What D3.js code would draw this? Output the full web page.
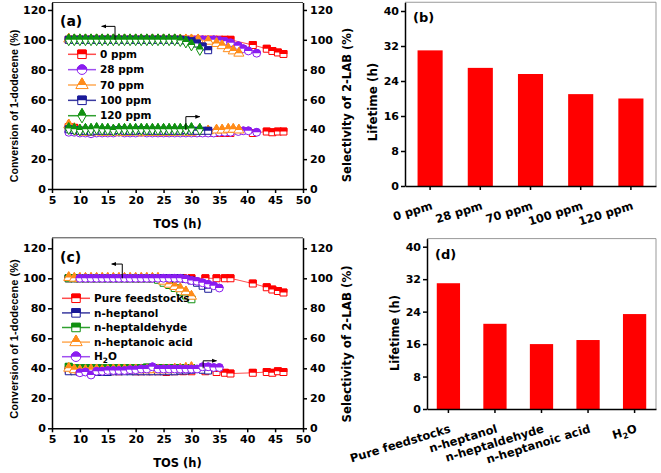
<!DOCTYPE html>
<html><head><meta charset="utf-8">
<script src="https://cdn.jsdelivr.net/npm/d3@7"></script>
<style>body{margin:0;background:#fff} svg{display:block}</style>
</head><body><svg id="c" width="661" height="473"></svg>
<script>
// ---------------- DATA ----------------
const tickX = [5,10,15,20,25,30,35,40,45,50];
const tickY = [0,20,40,60,80,100,120];
const tickLife = [0,8,16,24,32,40];

// Panel (a): impurity concentration
const tA0 = [8,9,10,11,12,13,14,15,16,17,18,19,20,21,22,23,24,25,26,27,28,29,30,31,32,33,34,35,36,37,41,43.5,44.5,45.5,46.5];
const cA0 = [100,100,100,100,100,100,100,100,100,100,100,100,100,100,100,100,100,100,100,100,100,100,100,100,100,100,100,100,100,100,96.5,94,92.5,91.5,90.5];
const sA0 = [41.5,41,39,38.5,38,38.5,38,38.5,38,38.5,38,38.5,38,38,38.5,38,38,37.5,38,38,38,38,38,37.5,38,38,37.5,37.5,37.5,37.5,37.5,38.5,38,38.5,38.5];
const tA28 = [8,9,10,11,12,13,14,15,16,17,18,19,20,21,22,23,24,25,26,27,28,29,30,31,32,33,34,35,36,37,38.4,39.3,40.2,41.7];
const cA28 = [100,100,100,100,100,100,100,100,100,100,100,100,100,100,100,100,100,100,100,100,100,100,100,100,100,100,100,99.5,99,98,96,94,92.5,91];
const sA28 = [38,38,37.5,37.5,37,37.5,37.5,37.5,37.5,38,37.5,37.5,37.5,38,37.5,37.5,37.5,37.5,37.5,37.5,37.5,37.5,37.5,37.5,37.5,37.5,37.5,38,38,38,38.5,39,39,38];
const tA70 = [8,9,10,11,12,13,14,15,16,17,18,19,20,21,22,23,24,25,26,27,28,29,30,31.2,33,34.5,35.5,36.6,37.5,38.5];
const cA70 = [100.5,100,100,100,100,100,100,100,100,100,100,100,100,100,100,100,100,100,100,100,100,100,100,100,99,97.5,96,94,92.5,91];
const sA70 = [43,40.5,38.5,38,38,38.5,38,38,38.5,38,38,38,38.5,38,38,38,38,38,38,38,38.5,38,38,38.5,39,39.5,39.5,40,40,39.5];
const tA100 = [8,9,10,11,12,13,14,15,16,17,18,19,20,21,22,23,24,25,26,27,28,29,30,31,32,33];
const cA100 = [100,100,100,100,100,100,100,100,100,100,100,100,100,100,100,100,100,100,100,100,100,99.5,99,97.5,95.5,93];
const sA100 = [40,39.5,39,39,38.5,39,39,39,39,39.5,39,39,39,39.5,39,39,39,39,39,39,39,39.5,39,39,39,39];
const tA120 = [8,9,10,11,12,13,14,15,16,17,18,19,20,21,22,23,24,25,26,27,28,29,30,31.5];
const cA120 = [100,100,100,100,100,100,100,100,100,100,100,100,100,100,100,100,100,100,100,100,99.5,98.5,96.5,93.5];
const sA120 = [40.5,40,39.5,40,40,40.5,40,40,39.5,40,40,40,40,40,40,40,40,40,40,40,40,40,40.5,40];

// Panel (c): impurity type
const tC0 = [8,9.5,11,12.5,14,15.5,17,18.5,20,21,22.5,24,25.5,27,28.5,30,32.5,34.5,36,37,41,43.5,44.5,45.5,46.5];
const cC0 = [100,100,100,100,100,100,100,100,100,100,100,100,100,100,100,100,100,100,100,100,96.5,94,92.5,91.5,90.5];
const sC0 = [39,38.5,38.5,38.5,38,38,38,38.5,38,38,38,38,37.5,38,38,38,38,37.5,37,36.5,37,37.5,37,38,37.5];
const tC1 = [8,9,10,11,12,13,14,15,16,17,18,19,20,21,22,23,24,25,26,27,28,29,30,31,32,33];
const cC1 = [100,100,100,100,100,100,100,100,100,100,100,100,100,100,100,100,100,100,100,100,100,99.5,98.5,97,95,93];
const sC1 = [38,38,37.5,37.5,37.5,37.5,37.5,37.5,38,38,38,38,38,38,38,38,38,38,38,38,38.5,38.5,39,39.5,39,38.5];
const tC2 = [8,9,10,11,12,13,14,15,16,17,18,19,20,21,22,23,24,25,26,27,28,29,30];
const cC2 = [100,100,100,100,100,100,100,100,100,100,100,100,100,100,100,100,99,97,95.5,93.5,91,88.5,86];
const sC2 = [41,40,40,40,40,40,40,40,40,40,40,40,40,40,40.5,40,40,40,40,40,40,40,40];
const tC3 = [8,9,10,11,12,13,14,15,16,17,18,19,20,21,22,23,24,25,26,27,28,29,30];
const cC3 = [100.5,100,100,100,100,100,100,100,100,100,100,100,100,100,100,100,100,98,96,94.5,93,91,88];
const sC3 = [40,39,38.5,38.5,39,39,38.5,38.5,39,39,39,39,39,39,39,39,39,39,39,39.5,39.5,40,40.5];
const tC4 = [10,11,12,13,14,15,16,17,18,19,20,21,22,23,24,25,26,27,28,29,30,31,32,33,34,35];
const cC4 = [100,100,100,100,100,100,100,100,100,100,100,100,100,100,100,100,100,100,100,99.5,98.5,98,97,96,95,93.5];
const sC4 = [37,37.5,35.5,38,38,38.5,38.5,38.5,38.5,39,39,39.5,39.5,41,39.5,39.5,39.5,39.5,39.5,39.5,39.5,39.5,41,41,40.5,40.5];

// Bars
const bCats = ["0 ppm","28 ppm","70 ppm","100 ppm","120 ppm"];
const bVals = [31, 27, 25.6, 21, 20];
const dCats = ["Pure feedstocks","n-heptanol","n-heptaldehyde","n-heptanoic acid","H2O"];
const dVals = [31, 21, 16, 17, 23.4];

// ---------------- DRAW ----------------
const FONT = "'DejaVu Sans', 'Liberation Sans', Arial, sans-serif";
const FONT2 = "'Liberation Sans', Arial, sans-serif";
const svg = d3.select("#c");
svg.append("rect").attr("width",661).attr("height",473).attr("fill","#fff");
const defs = svg.append("defs");
defs.append("clipPath").attr("id","topHalf").attr("clipPathUnits","userSpaceOnUse")
  .append("rect").attr("x",-20).attr("y",-20).attr("width",40).attr("height",20);
defs.append("marker").attr("id","arrow").attr("viewBox","0 0 10 10").attr("refX",9).attr("refY",5)
  .attr("markerWidth",5).attr("markerHeight",5).attr("markerUnits","userSpaceOnUse").attr("orient","auto")
  .append("path").attr("d","M0,1L10,5L0,9z").attr("fill","#000");

const shapes = {square:d3.symbolSquare, circle:d3.symbolCircle, triangle:d3.symbolTriangle, diamond:d3.symbolDiamond};

function halfMarker(g, x, y, shape, color, size){
  const d = d3.symbol(shapes[shape], size)();
  const tr = `translate(${x},${y})`;
  g.append("path").attr("d",d).attr("transform",tr).attr("fill","#fff").attr("stroke",color).attr("stroke-width",1);
  g.append("path").attr("d",d).attr("transform",tr).attr("fill",color).attr("stroke",color).attr("stroke-width",1).attr("clip-path","url(#topHalf)");
}

function styleAxis(a, fs){
  a.select(".domain").attr("stroke","#000").attr("stroke-width",1.5);
  a.selectAll(".tick line").attr("stroke","#000").attr("stroke-width",1.5);
  a.selectAll("text").attr("font-family",FONT).attr("font-weight","bold").attr("font-size",fs).attr("fill","#000");
}

function rotTitle(g, text, x, y, fs, fam){
  g.append("text").attr("transform",`translate(${x},${y}) rotate(-90)`).attr("text-anchor","middle")
    .attr("font-family",fam || FONT).attr("font-weight","bold").attr("font-size",fs).text(text);
}

function addLabel(g, txt){
  if (txt === "H2O") {
    g.append("tspan").text("H");
    g.append("tspan").text("2").attr("font-size","70%").attr("dy",3);
    g.append("tspan").text("O").attr("dy",-3);
  } else g.text(txt);
}

function linePanel(o){
  const g = svg.append("g");
  const x = d3.scaleLinear().domain([5,50]).range([o.left,o.right]);
  const y = d3.scaleLinear().domain([0,o.yMax]).range([o.bottom,o.top]);
  g.append("line").attr("x1",o.left).attr("x2",o.right).attr("y1",o.top).attr("y2",o.top).attr("stroke","#444").attr("stroke-width",1);

  o.series.forEach(s=>{
    [s.conv, s.sel].forEach(vals=>{
      const pts = s.tos.map((t,i)=>[t, vals[i]]);
      g.append("path").datum(pts).attr("d", d3.line().x(d=>x(d[0])).y(d=>y(d[1])))
        .attr("fill","none").attr("stroke",s.line).attr("stroke-width",1);
      pts.forEach(p=>halfMarker(g, x(p[0]), y(p[1]), s.shape, s.color, s.size));
    });
  });

  o.arrows.forEach(a=>{
    g.append("path").attr("d", `M${x(a[0])},${y(a[1])}V${y(a[2])}H${x(a[3])}`)
      .attr("fill","none").attr("stroke","#000").attr("stroke-width",1).attr("marker-end","url(#arrow)");
  });

  const ax = g.append("g").attr("transform",`translate(0,${o.bottom})`)
    .call(d3.axisBottom(x).tickValues(tickX).tickSize(4).tickPadding(3).tickSizeOuter(0));
  styleAxis(ax, 11);
  const ayl = g.append("g").attr("transform",`translate(${o.left},0)`)
    .call(d3.axisLeft(y).tickValues(tickY).tickSize(4).tickPadding(2).tickSizeOuter(0));
  styleAxis(ayl, 11);
  const ayr = g.append("g").attr("transform",`translate(${o.right},0)`)
    .call(d3.axisRight(y).tickValues(tickY).tickSize(4).tickPadding(3).tickSizeOuter(0));
  styleAxis(ayr, 11);

  o.series.forEach((s,i)=>{
    const ly = o.legY + i*o.legStep;
    g.append("line").attr("x1",o.legX0).attr("x2",o.legX1).attr("y1",ly).attr("y2",ly).attr("stroke",s.line).attr("stroke-width",1.5);
    halfMarker(g, (o.legX0+o.legX1)/2, ly, s.shape, s.color, s.size*1.5);
    const t = g.append("text").attr("x",o.legX1+4).attr("y",ly).attr("dy","0.36em")
      .attr("font-family",FONT).attr("font-weight","bold").attr("font-size",10.5);
    addLabel(t, s.name);
  });

  g.append("text").attr("x",(o.left+o.right)/2).attr("y",o.xTitleY).attr("text-anchor","middle")
    .attr("font-family",FONT).attr("font-weight","bold").attr("font-size",11.5).text("TOS (h)");
  rotTitle(g, "Conversion of 1-dodecene (%)", 18, o.titleLY, o.titleLFs, FONT2);
  rotTitle(g, "Selectivity of 2-LAB (%)", 351, o.titleRY, o.titleRFs);
  g.append("text").attr("x",o.labX).attr("y",o.labY).attr("font-family",FONT).attr("font-weight","bold").attr("font-size",14).text(o.label);
}

function barPanel(o){
  const g = svg.append("g");
  const x = d3.scaleBand().domain(o.cats).range([o.left,o.right]).paddingInner(0.5).paddingOuter(o.pad);
  const y = d3.scaleLinear().domain([0,42]).range([o.bottom,o.top]);
  g.append("path").attr("d",`M${o.left},${o.top}H${o.right}V${o.bottom}`).attr("fill","none").attr("stroke","#999").attr("stroke-width",1);
  g.selectAll("rect.bar").data(o.vals).join("rect").attr("class","bar")
    .attr("x",(d,i)=>x(o.cats[i])).attr("width",x.bandwidth())
    .attr("y",d=>y(d)).attr("height",d=>y(0)-y(d)).attr("fill","#ff0000");
  const ax = g.append("g").attr("transform",`translate(0,${o.bottom})`)
    .call(d3.axisBottom(x).tickSize(4).tickSizeOuter(0).tickFormat(""));
  styleAxis(ax, 11);
  const ay = g.append("g").attr("transform",`translate(${o.left},0)`)
    .call(d3.axisLeft(y).tickValues(tickLife).tickSize(4).tickPadding(2).tickSizeOuter(0));
  styleAxis(ay, 11);
  o.cats.forEach(c=>{
    const cx = x(c) + x.bandwidth()/2;
    const t = g.append("text").attr("transform",`translate(${cx+3},${o.bottom+23}) rotate(-17)`).attr("text-anchor","end")
      .attr("font-family",FONT).attr("font-weight","bold").attr("font-size",11.5);
    addLabel(t, c);
  });
  rotTitle(g, "Lifetime (h)", o.titleX, o.titleY, o.titleFs);
  g.append("text").attr("x",o.labX).attr("y",o.labY).attr("font-family",FONT).attr("font-weight","bold").attr("font-size",13).text(o.label);
}

linePanel({
  left:52, right:303, top:2.5, bottom:189, yMax:125,
  series:[
    {name:"0 ppm", tos:tA0, conv:cA0, sel:sA0, shape:"square", color:"#ff0000", line:"#ff4d4d", size:48},
    {name:"28 ppm", tos:tA28, conv:cA28, sel:sA28, shape:"circle", color:"#8a1cf0", line:"#a050f0", size:48},
    {name:"70 ppm", tos:tA70, conv:cA70, sel:sA70, shape:"triangle", color:"#ff8c1a", line:"#ffaa55", size:44},
    {name:"100 ppm", tos:tA100, conv:cA100, sel:sA100, shape:"square", color:"#1a1a99", line:"#3a3aa0", size:48},
    {name:"120 ppm", tos:tA120, conv:cA120, sel:sA120, shape:"diamond", color:"#109010", line:"#30a030", size:40}
  ],
  arrows:[[16.3,100,109,13.9],[29,39.5,48.5,31.5]],
  legX0:68, legX1:96, legY:54.3, legStep:15.35,
  xTitleY:228, titleLY:106, titleRY:105, titleLFs:10.6, titleRFs:11.6,
  label:"(a)", labX:60, labY:26
});

linePanel({
  left:52, right:303, top:237.8, bottom:428.3, yMax:127,
  series:[
    {name:"Pure feedstocks", tos:tC0, conv:cC0, sel:sC0, shape:"square", color:"#ff0000", line:"#ff4d4d", size:48},
    {name:"n-heptanol", tos:tC1, conv:cC1, sel:sC1, shape:"square", color:"#1a1a99", line:"#3a3aa0", size:48},
    {name:"n-heptaldehyde", tos:tC2, conv:cC2, sel:sC2, shape:"square", color:"#109010", line:"#30a030", size:48},
    {name:"n-heptanoic acid", tos:tC3, conv:cC3, sel:sC3, shape:"triangle", color:"#ff8c1a", line:"#ffaa55", size:44},
    {name:"H2O", tos:tC4, conv:cC4, sel:sC4, shape:"circle", color:"#8a1cf0", line:"#a050f0", size:48}
  ],
  arrows:[[17.6,100,109.5,15.7],[32.1,40,45,34.5]],
  legX0:62, legX1:90, legY:298.3, legStep:14.6,
  xTitleY:467, titleLY:339, titleRY:344, titleLFs:11.1, titleRFs:11.8,
  label:"(c)", labX:60, labY:262
});

barPanel({cats:bCats, vals:bVals, left:405, right:656, top:2.25, bottom:186, pad:0.25,
  titleX:377, titleY:102, titleFs:11.9, label:"(b)", labX:413, labY:21.5});
barPanel({cats:dCats, vals:dVals, left:427, right:656, top:238.6, bottom:409, pad:0.21,
  titleX:399, titleY:333, titleFs:11.5, label:"(d)", labX:435, labY:259});
</script></body></html>
